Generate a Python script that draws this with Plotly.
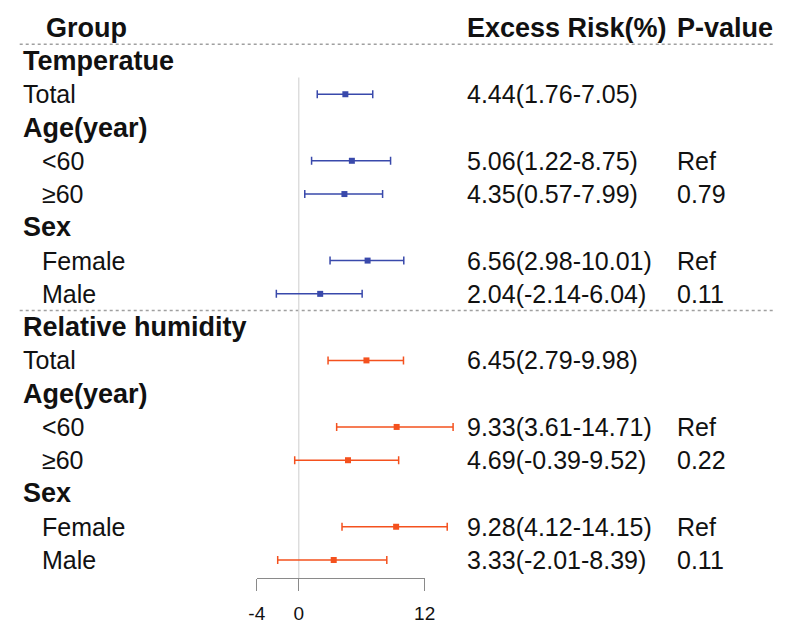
import plotly.graph_objects as go

# ---------------- data ----------------
groups = ["Temperatue", "Relative humidity"]
sub_labels = ["Total", "Age(year)", "<60", "≥60", "Sex", "Female", "Male"]
sub_bold = [False, True, False, False, True, False, False]
sub_indent = [False, False, True, True, False, True, True]
sub_data_idx = [0, None, 1, 2, None, 3, 4]

temp_est = [4.44, 5.06, 4.35, 6.56, 2.04]
temp_low = [1.76, 1.22, 0.57, 2.98, -2.14]
temp_high = [7.05, 8.75, 7.99, 10.01, 6.04]
temp_p = ["", "Ref", "0.79", "Ref", "0.11"]

rh_est = [6.45, 9.33, 4.69, 9.28, 3.33]
rh_low = [2.79, 3.61, -0.39, 4.12, -2.01]
rh_high = [9.98, 14.71, 9.52, 14.15, 8.39]
rh_p = ["", "Ref", "0.22", "Ref", "0.11"]

headers = ["Group", "Excess Risk(%)", "P-value"]
tick_vals = [-4, 0, 12]
tick_text = ["-4", "0", "12"]

colors = ["#3949AB", "#F4511E"]

# ---------------- layout constants ----------------
W, H = 785, 626
row0_px = 27.7
row_step = 33.27
px_per_unit = 10.75
zero_px = 298
x_lo = -zero_px / px_per_unit
x_hi = (W - zero_px) / px_per_unit
y_top = -row0_px / row_step
y_bot = (H - row0_px) / row_step

FONT = "Liberation Sans, Arial, sans-serif"
BOLD_SIZE = 27
NORM_SIZE = 25

fig = go.Figure()
annotations = []
shapes = []


def add_text(xpx, row, text, bold, size):
    annotations.append(dict(
        x=xpx / W, xref="paper", y=row, yref="y",
        text=f"<b>{text}</b>" if bold else text,
        showarrow=False, xanchor="left", yanchor="middle",
        font=dict(family=FONT, size=size, color="#111111"),
    ))


add_text(37, 0, headers[0], True, BOLD_SIZE)
add_text(468, 0, headers[1], True, BOLD_SIZE)
add_text(684, 0, headers[2], True, BOLD_SIZE)

datasets = [
    (temp_est, temp_low, temp_high, temp_p),
    (rh_est, rh_low, rh_high, rh_p),
]

row = 1
for g, (est, low, high, pv) in enumerate(datasets):
    add_text(13, row, groups[g], True, BOLD_SIZE)
    row += 1
    ys, xs, ep, em = [], [], [], []
    for lab, b, ind, di in zip(sub_labels, sub_bold, sub_indent, sub_data_idx):
        add_text(33 if ind else 13, row, lab, b, BOLD_SIZE if b else NORM_SIZE)
        if di is not None:
            ys.append(row)
            xs.append(est[di])
            ep.append(high[di] - est[di])
            em.append(est[di] - low[di])
            add_text(468, row, f"{est[di]:.2f}({low[di]:.2f}-{high[di]:.2f})", False, NORM_SIZE)
            if pv[di]:
                add_text(684, row, pv[di], False, NORM_SIZE)
        row += 1
    fig.add_trace(go.Scatter(
        x=xs, y=ys, mode="markers",
        marker=dict(symbol="square", size=6, color=colors[g]),
        error_x=dict(type="data", symmetric=False, array=ep, arrayminus=em,
                     color=colors[g], thickness=1.5, width=4),
        showlegend=False, hoverinfo="skip",
    ))

n_rows = row

for yy in [0.5, 8.5]:
    shapes.append(dict(type="line", xref="paper", yref="y",
                       x0=12 / W, x1=1, y0=yy, y1=yy, layer="below",
                       line=dict(color="#A0A0A0", width=1.5, dash="dot")))
shapes.append(dict(type="line", xref="x", yref="y", x0=0, x1=0,
                   y0=1.5, y1=n_rows - 0.46, layer="below",
                   line=dict(color="#D6D6D6", width=1.2)))

fig.add_trace(go.Scatter(x=[0], y=[0], xaxis="x2", yaxis="y", mode="markers",
                         marker=dict(opacity=0), showlegend=False, hoverinfo="skip"))

axis_px = row0_px + row_step * (n_rows - 0.46)

fig.update_layout(
    width=W, height=H, autosize=False,
    margin=dict(l=0, r=0, t=0, b=0),
    paper_bgcolor="white", plot_bgcolor="rgba(0,0,0,0)",
    xaxis=dict(range=[x_lo, x_hi], visible=False, fixedrange=True),
    xaxis2=dict(domain=[(zero_px - 4 * px_per_unit) / W, (zero_px + 12 * px_per_unit) / W],
                range=[-4, 12], anchor="free", position=1 - axis_px / H,
                showline=True, linecolor="#8A8A8A", linewidth=1.2,
                ticks="outside", ticklen=12, tickwidth=1.2, tickcolor="#8A8A8A",
                tickvals=tick_vals, ticktext=tick_text, showgrid=False, zeroline=False,
                ticklabelstandoff=6, fixedrange=True,
                tickfont=dict(family=FONT, size=19, color="#111111")),
    yaxis=dict(range=[y_bot, y_top], visible=False, fixedrange=True),
    annotations=annotations,
    shapes=shapes,
)

fig.write_html("out.html", config={"displayModeBar": False, "responsive": False},
               post_script="document.documentElement.style.background='yellow';"
                           "document.documentElement.style.margin='0';"
                           "document.body.style.margin='0';document.body.style.padding='0';")
